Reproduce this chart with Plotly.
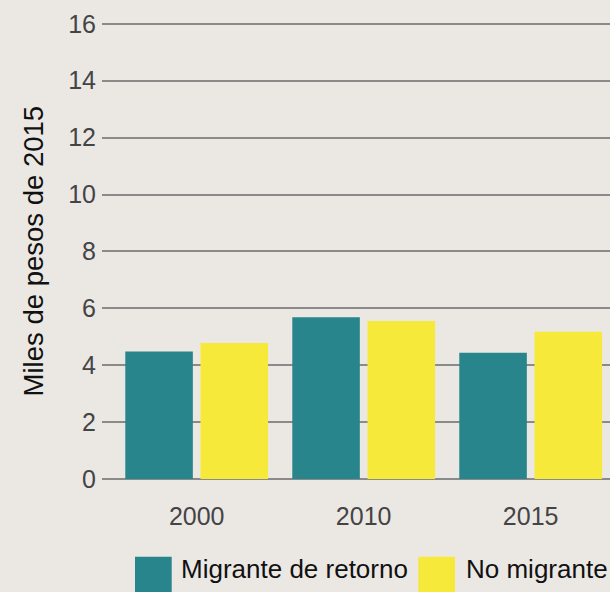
import plotly.graph_objects as go

# ---- data ----
years = ["2000", "2010", "2015"]
series_names = ["Migrante de retorno", "No migrante"]
migrante_retorno = [4.48, 5.69, 4.44]
no_migrante = [4.78, 5.55, 5.18]
y_ticks = [0, 2, 4, 6, 8, 10, 12, 14, 16]
y_title = "Miles de pesos de 2015"

# ---- style ----
BG = "#ebe8e4"
TEAL = "#27858b"
YELLOW = "#f6e93a"
GRID = "#8a8a8a"
FONT = "Liberation Sans, Arial, Helvetica, sans-serif"
W, H = 610, 592
L, R, T, B = 102, 0, 20.5, 112.7
PW, PH = W - L - R, H - T - B

def px_x(px):
    return (px - L) / PW

def px_y(py):
    return (H - B - py) / PH

fig = go.Figure()
colors = [TEAL, YELLOW]
for name, vals, col in zip(series_names, [migrante_retorno, no_migrante], colors):
    fig.add_trace(go.Bar(x=years, y=vals, name=name, marker=dict(color=col, line=dict(width=0)),
                         showlegend=False))

fig.update_layout(
    width=W, height=H,
    margin=dict(l=L, r=R, t=T, b=B, pad=0),
    paper_bgcolor=BG, plot_bgcolor=BG,
    barmode="group", bargap=0.099, bargroupgap=0.102,
    font=dict(family=FONT, size=25, color="#444444"),
)
fig.update_xaxes(
    type="category", range=[-0.567, 2.475], showgrid=False, zeroline=False,
    showline=False, ticks="", ticklabelstandoff=20,
    tickfont=dict(size=25, color="#444444"),
)
fig.update_yaxes(
    range=[0, 16.1], tickvals=y_ticks, ticktext=[str(v) for v in y_ticks],
    showgrid=True, gridcolor=GRID, gridwidth=1.5,
    zeroline=True, zerolinecolor=GRID, zerolinewidth=1.5,
    showline=False, ticks="", ticklabelstandoff=5,
    tickfont=dict(size=25, color="#444444"),
)

# axis title
fig.add_annotation(
    text=y_title, xref="paper", yref="paper", x=px_x(33), y=px_y(251.3),
    xanchor="center", yanchor="middle", textangle=-90, showarrow=False,
    font=dict(family=FONT, size=27.5, color="#111111"),
)

# manual legend with large swatches
legend_swatch_x = [135, 418.3]
legend_text_x = [178.7, 463.7]
sw = 36.7
for name, col, sx, tx in zip(series_names, colors, legend_swatch_x, legend_text_x):
    fig.add_shape(type="rect", xref="paper", yref="paper",
                  x0=px_x(sx), x1=px_x(sx + sw), y0=px_y(600), y1=px_y(557.3),
                  fillcolor=col, line=dict(width=0), layer="above")
    fig.add_annotation(text=name, xref="paper", yref="paper", x=px_x(tx), y=px_y(569),
                       xanchor="left", yanchor="middle", showarrow=False,
                       font=dict(family=FONT, size=26, color="#111111"))

fig.write_html(
    "out.html",
    config={"displayModeBar": False},
    post_script="document.body.style.margin='0';document.body.style.background='%s';" % BG,
)
